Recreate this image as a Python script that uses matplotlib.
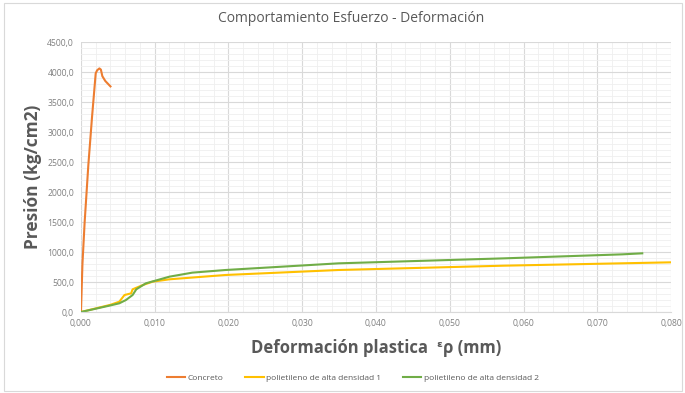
import matplotlib
matplotlib.use("Agg")
import matplotlib.pyplot as plt
from matplotlib.ticker import MultipleLocator, FuncFormatter
from matplotlib.patches import Rectangle

# Data
concreto_x = [0.0, 0.0002, 0.0005, 0.0010, 0.0015, 0.0020, 0.0022, 0.0025, 0.0027, 0.0029, 0.0033, 0.0040]
concreto_y = [0, 800, 1500, 2450, 3250, 3980, 4030, 4060, 4040, 3930, 3850, 3760]

pe1_x = [0.0, 0.0020, 0.0040, 0.0052, 0.0059, 0.0068, 0.0070, 0.0084, 0.0097, 0.0120, 0.0196, 0.0349, 0.0573, 0.0800]
pe1_y = [0, 60, 120, 172, 283, 311, 378, 450, 505, 545, 617, 700, 772, 828]

pe2_x = [0.0, 0.0020, 0.0040, 0.0052, 0.0061, 0.0070, 0.0075, 0.0088, 0.0120, 0.0151, 0.0196, 0.0349, 0.0573, 0.0734, 0.0761]
pe2_y = [0, 55, 110, 145, 200, 283, 378, 478, 589, 656, 700, 811, 894, 961, 978]

labels = ["Concreto", "polietileno de alta densidad 1", "polietileno de alta densidad 2"]
colors = ["#ED7D31", "#FFC000", "#70AD47"]

fam = ["Open Sans", "DejaVu Sans"]
plt.rcParams['font.family'] = fam

fig = plt.figure(figsize=(6.85, 3.93), dpi=100)
ax = fig.add_axes([0.1182, 0.2061, 0.9796 - 0.1182, 0.8931 - 0.2061])

ax.plot(concreto_x, concreto_y, color=colors[0], lw=1.5, label=labels[0])
ax.plot(pe1_x, pe1_y, color=colors[1], lw=1.5, label=labels[1])
ax.plot(pe2_x, pe2_y, color=colors[2], lw=1.5, label=labels[2])

ax.set_xlim(0, 0.080)
ax.set_ylim(0, 4500)
ax.xaxis.set_major_locator(MultipleLocator(0.010))
ax.xaxis.set_minor_locator(MultipleLocator(0.002))
ax.yaxis.set_major_locator(MultipleLocator(500))
ax.yaxis.set_minor_locator(MultipleLocator(100))
ax.xaxis.set_major_formatter(FuncFormatter(lambda v, p: f"{v:.3f}".replace(".", ",")))
ax.yaxis.set_major_formatter(FuncFormatter(lambda v, p: f"{v:.1f}".replace(".", ",")))
ax.grid(which="major", color="#d9d9d9", lw=0.8)
ax.grid(which="minor", color="#efefef", lw=0.6)
ax.set_axisbelow(True)
for s in ["top", "right", "left"]:
    ax.spines[s].set_visible(False)
ax.spines["bottom"].set_color("#d9d9d9")
ax.tick_params(which="both", length=0, labelsize=6.2, labelcolor="#808080", pad=5)

ax.set_ylabel("Presión (kg/cm2)", fontsize=12.5, fontweight="bold", color="#595959", labelpad=4)
ax.set_xlabel("Deformación plastica  ᵋρ (mm)", fontsize=12, fontweight="bold", color="#595959", labelpad=8)
fig.text(0.512, 0.952, "Comportamiento Esfuerzo - Deformación", ha="center", va="center",
         fontsize=10, color="#595959")

leg = fig.legend(loc="center", bbox_to_anchor=(0.515, 0.038), ncol=3, frameon=False,
                 fontsize=6, handlelength=2.2, handletextpad=0.3, columnspacing=2.6,
                 labelcolor="#595959")

fig.patches.append(Rectangle((0.006, 0.005), 0.99, 0.988, transform=fig.transFigure,
                             fill=False, edgecolor="#d9d9d9", lw=0.8))

fig.savefig("out.png", dpi=100)
